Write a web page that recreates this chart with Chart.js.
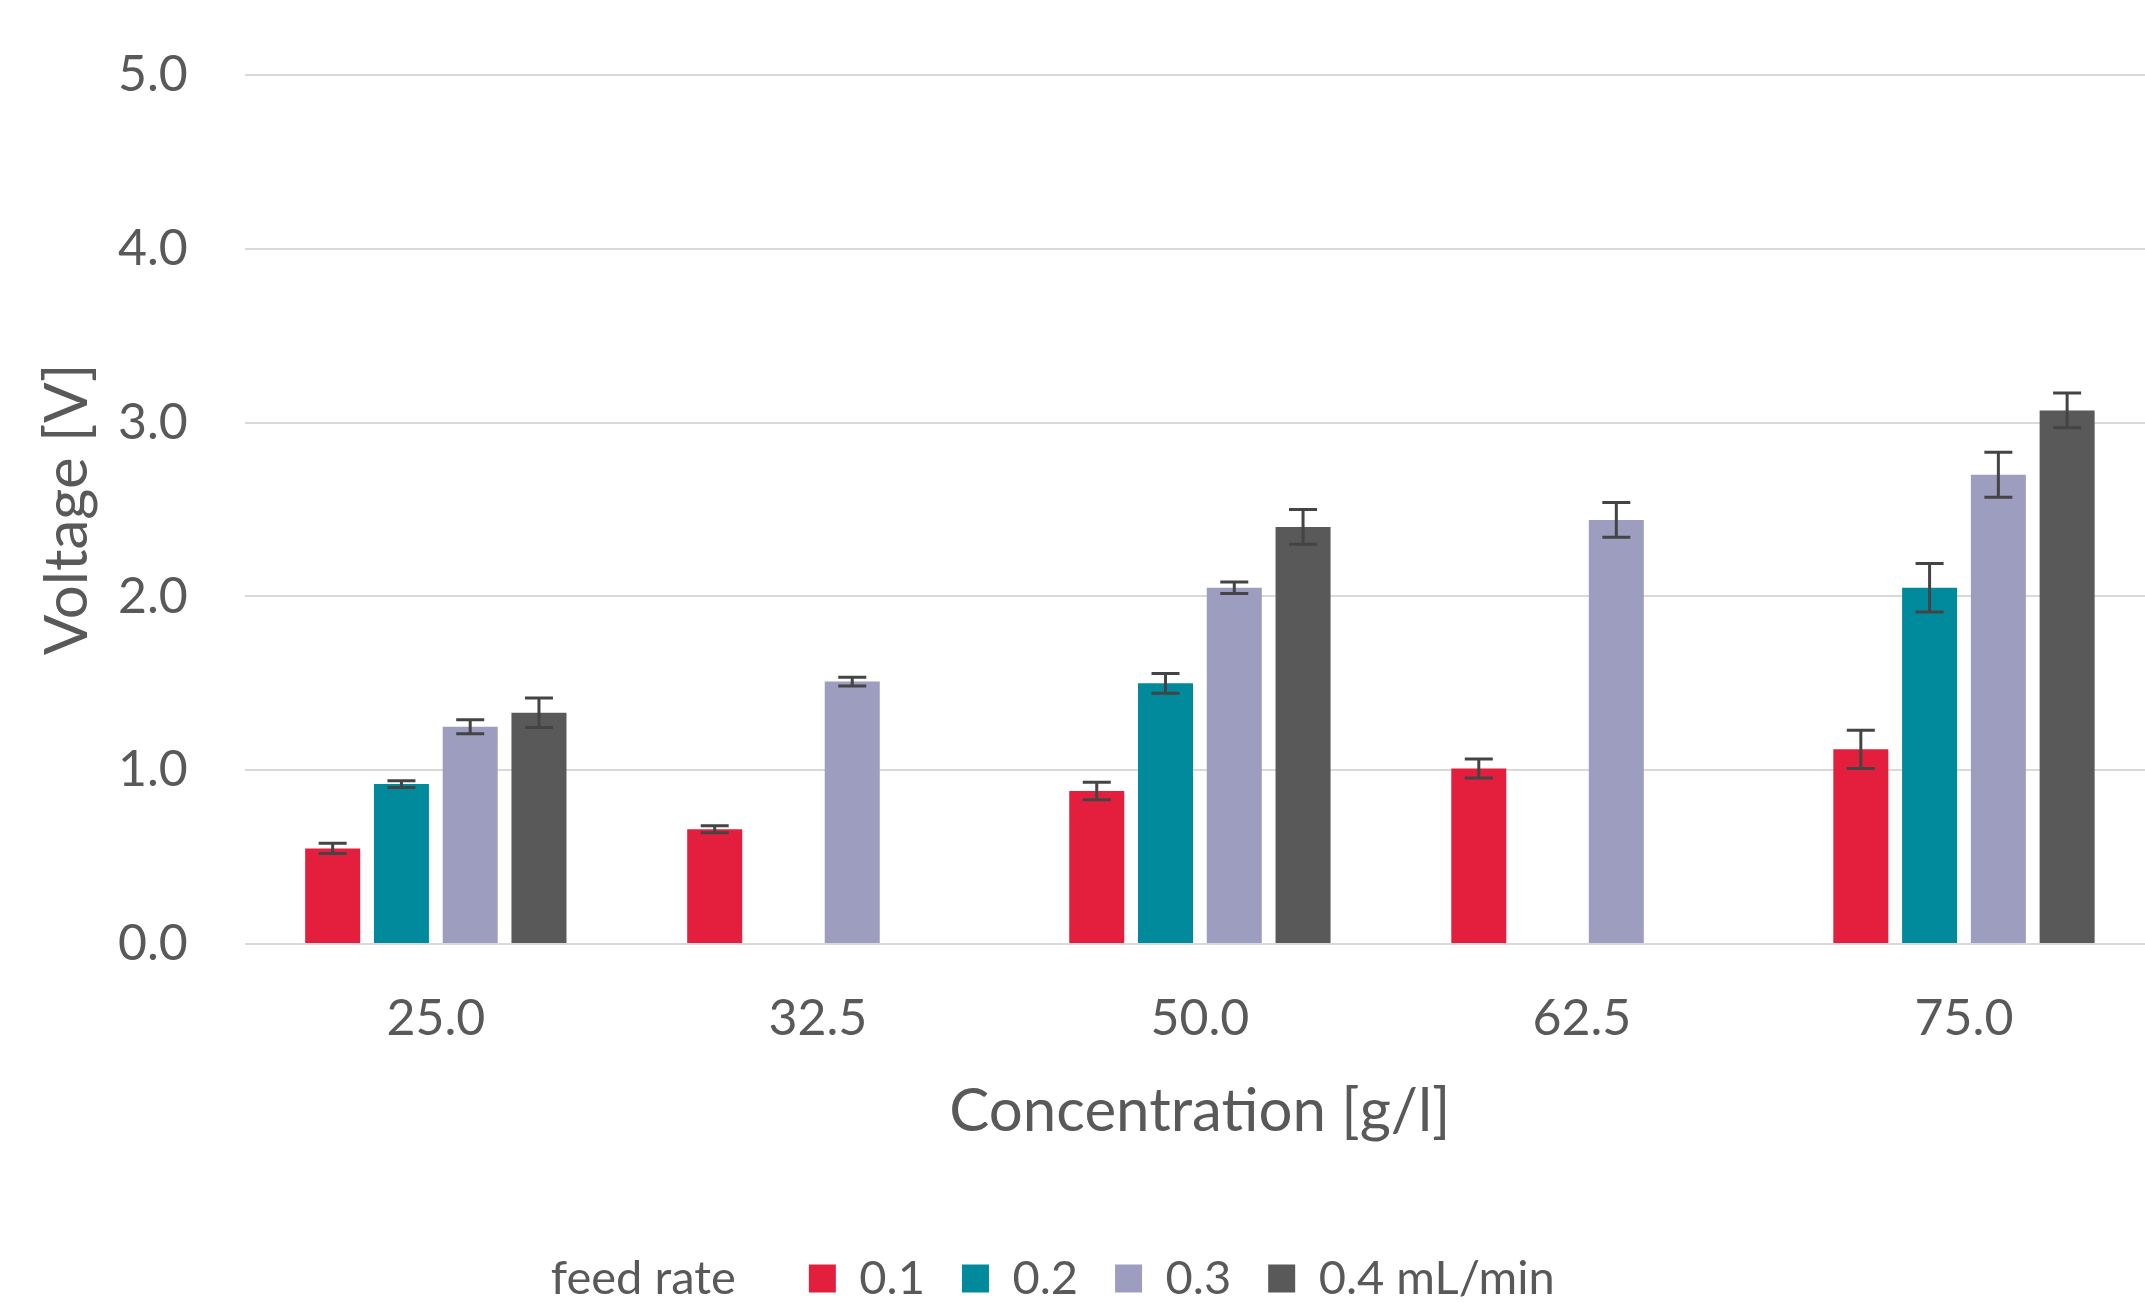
<!DOCTYPE html>
<html>
<head>
<meta charset="utf-8">
<title>Voltage vs concentration</title>
<script src="https://cdn.jsdelivr.net/npm/chart.js@4/dist/chart.umd.min.js"></script>
<style>
  html, body { margin: 0; padding: 0; background: #ffffff; overflow: hidden; }
  /* a little wider than the window: the plot runs off the right edge in the original */
  #wrap { width: 2155px; height: 1304px; }
</style>
</head>
<body>
<div id="wrap"><canvas id="voltageChart"></canvas></div>
<script>
// Concentration groups on the x axis
const concentrations = ['25.0', '32.5', '50.0', '62.5', '75.0'];

// Mean voltage per feed rate (null = not measured)
const rate01 = [0.55, 0.66, 0.88, 1.01, 1.12];
const rate02 = [0.92, null, 1.50, null, 2.05];
const rate03 = [1.25, 1.51, 2.05, 2.44, 2.70];
const rate04 = [1.33, null, 2.40, null, 3.07];

// Error bar half-widths
const err01 = [0.03, 0.02, 0.05, 0.055, 0.11];
const err02 = [0.02, null, 0.057, null, 0.14];
const err03 = [0.04, 0.025, 0.033, 0.10, 0.13];
const err04 = [0.085, null, 0.10, null, 0.10];

const seriesLabels = ['0.1', '0.2', '0.3', '0.4 mL/min'];
const seriesColors = ['#E41F3D', '#008A9B', '#9C9DBF', '#595959'];

const textColor = '#595959';
const gridColor = '#D9D9D9';

Chart.defaults.font.family = 'Lato, "Open Sans", sans-serif';
Chart.defaults.color = textColor;

// Draws the error bars from the y scale
const errorBars = {
    id: 'errorBars',
    afterDatasetsDraw(chart) {
        const ctx = chart.ctx;
        const y = chart.scales.y;
        const errors = [err01, err02, err03, err04];
        ctx.save();
        ctx.strokeStyle = '#444444';
        ctx.lineWidth = 3;
        chart.data.datasets.forEach((ds, i) => {
            const meta = chart.getDatasetMeta(i);
            meta.data.forEach((bar, j) => {
                const v = ds.data[j];
                const e = errors[i][j];
                if (v == null || e == null) return;
                const top = y.getPixelForValue(v + e);
                const bottom = y.getPixelForValue(v - e);
                const half = 14;
                ctx.beginPath();
                ctx.moveTo(bar.x, top);
                ctx.lineTo(bar.x, bottom);
                ctx.moveTo(bar.x - half, top);
                ctx.lineTo(bar.x + half, top);
                ctx.moveTo(bar.x - half, bottom);
                ctx.lineTo(bar.x + half, bottom);
                ctx.stroke();
            });
        });
        ctx.restore();
    }
};

// Nudges the legend so the row sits where it does in the original
const legendShift = {
    id: 'legendShift',
    afterLayout(chart) {
        const dx = -50, dy = 8;
        chart.legend.left += dx;
        chart.legend.right += dx;
        chart.legend.top += dy;
        chart.legend.bottom += dy;
    }
};

const ctx = document.getElementById('voltageChart').getContext('2d');
const chart = new Chart(ctx, {
    type: 'bar',
    data: {
        labels: concentrations,
        datasets: [rate01, rate02, rate03, rate04].map((values, i) => ({
            label: seriesLabels[i],
            data: values,
            backgroundColor: seriesColors[i],
            borderWidth: 0,
            barPercentage: 0.8,
            categoryPercentage: 0.72
        }))
    },
    options: {
        responsive: true,
        maintainAspectRatio: false,
        animation: false,
        layout: { padding: { top: 75, left: 0, right: 0, bottom: 0 } },
        scales: {
            x: {
                // invisible tick marks give the gap below the plot
                grid: { color: 'rgba(0,0,0,0)', drawTicks: true, tickLength: 45 },
                border: { display: false },
                ticks: { padding: 0, font: { size: 50 }, color: textColor },
                title: {
                    display: true,
                    text: 'Concentration [g/l]',
                    font: { size: 60 },
                    color: textColor,
                    padding: { top: 27, bottom: 62 }
                }
            },
            y: {
                min: 0,
                max: 5,
                grid: { color: gridColor, lineWidth: 2, drawTicks: true, tickLength: 57, tickColor: 'rgba(0,0,0,0)' },
                border: { display: false },
                ticks: {
                    stepSize: 1,
                    padding: 0,
                    font: { size: 50 },
                    color: textColor,
                    callback: (value) => value.toFixed(1)
                },
                title: {
                    display: true,
                    text: 'Voltage [V]',
                    font: { size: 60 },
                    color: textColor,
                    padding: { top: 32, bottom: 14 }
                }
            }
        },
        plugins: {
            tooltip: { enabled: false },
            legend: {
                position: 'bottom',
                labels: {
                    boxWidth: 27,
                    boxHeight: 28,
                    padding: 37,
                    font: { size: 47 },
                    color: textColor,
                    generateLabels(chart) {
                        const items = Chart.defaults.plugins.legend.labels.generateLabels(chart);
                        items.unshift({
                            text: 'feed rate   ',
                            fillStyle: 'rgba(0,0,0,0)',
                            strokeStyle: 'rgba(0,0,0,0)',
                            fontColor: textColor,
                            lineWidth: 0,
                            hidden: false,
                            datasetIndex: -1
                        });
                        return items;
                    }
                }
            }
        }
    },
    plugins: [errorBars, legendShift]
});
</script>
</body>
</html>
